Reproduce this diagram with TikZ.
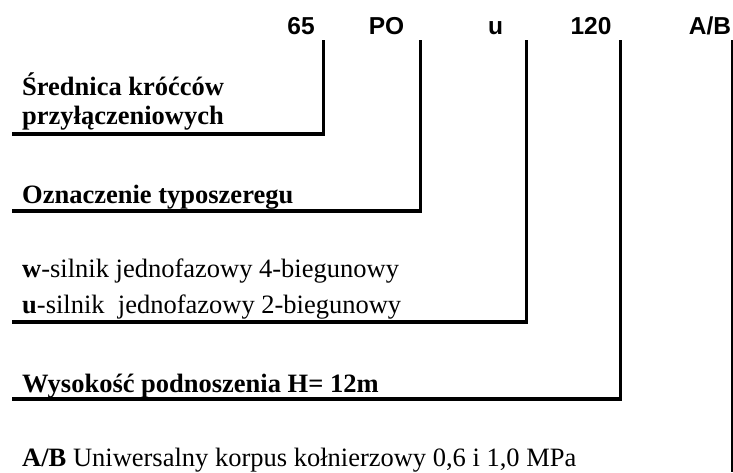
\documentclass[tikz,border=0pt]{standalone}
\usepackage{fontspec}
\setmainfont{Liberation Serif}
\newfontfamily\codefont{Liberation Sans}
\begin{document}
\begin{tikzpicture}[x=1pt,y=-1pt,
		code/.style={font=\codefont\bfseries\fontsize{24.5}{26}\selectfont, anchor=base, inner sep=0pt},
		desc/.style={font=\fontsize{26.5}{30}\selectfont, anchor=base west, inner sep=0pt},
		bracket/.style={line width=3.3pt},
		guide/.style={line width=1.3pt}]
	\useasboundingbox (0,0) rectangle (733,472);
	% code of the pump
	\node[code] (c65)  at (301,34)   {65};
	\node[code] (cPO)  at (386.5,34) {PO};
	\node[code] (cu)   at (495.5,34) {u};
	\node[code] (c120) at (591,34)   {120};
	\node[code] (cAB)  at (710,34)   {A/B};
	% descriptions
	\node[desc] (d65a) at (22,95)  {\bfseries Średnica króćców};
	\node[desc] (d65b) at (22,124) {\bfseries przyłączeniowych};
	\node[desc] (dPO)  at (22,203) {\bfseries Oznaczenie typoszeregu};
	\node[desc] (dw)   at (22,277) {\textbf{w}-silnik jednofazowy 4-biegunowy};
	\node[desc] (du)   at (22,313) {\textbf{u}-silnik~ jednofazowy 2-biegunowy};
	\node[desc] (d120) at (22,392) {\bfseries Wysokość podnoszenia H= 12m};
	\node[desc] (dAB)  at (22,466) {\textbf{A/B} Uniwersalny korpus kołnierzowy 0,6 i 1,0 MPa};
	% brackets
	\coordinate (t65)  at (323.3,40);  \coordinate (e65)  at (12,134);
	\coordinate (tPO)  at (420.7,40);  \coordinate (ePO)  at (12,211);
	\coordinate (tu)   at (526.7,40);  \coordinate (eu)   at (12,322);
	\coordinate (t120) at (620.7,40);  \coordinate (e120) at (12,399);
	\coordinate (tAB)  at (732,40);    \coordinate (eAB)  at (732,472);
	\draw[bracket] (t65) |- (e65);
	\draw[bracket] (tPO) |- (ePO);
	\draw[bracket] (tu) |- (eu);
	\draw[bracket] (t120) |- (e120);
	\draw[guide] (tAB) -- (eAB);
\end{tikzpicture}
\end{document}
